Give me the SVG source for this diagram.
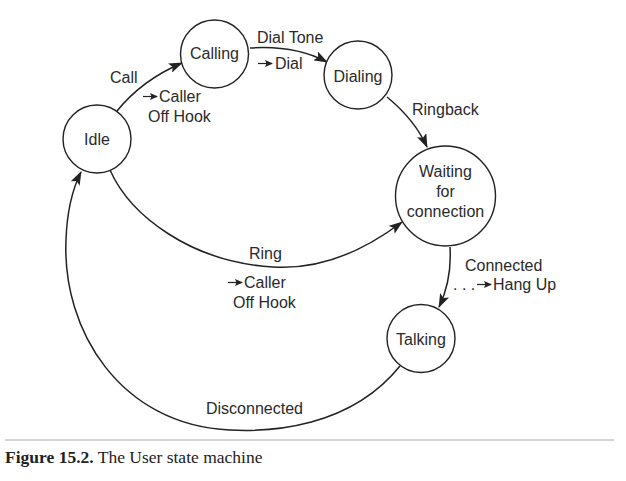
<svg xmlns="http://www.w3.org/2000/svg" width="626" height="481" viewBox="0 0 626 481">
<style>
.node circle{fill:#fff;stroke:#222;stroke-width:1.4}
text{font-family:"Liberation Sans",Arial,sans-serif;font-size:16px;fill:#2a2a2a}
.c{text-anchor:middle}
.edge{fill:none;stroke:#222;stroke-width:1.5}
.la{fill:none;stroke:#222;stroke-width:1.2}
.cap{font-family:"Liberation Serif","Times New Roman",serif;font-size:17.5px;fill:#222}
</style>
<defs>
<marker id="ah" markerUnits="userSpaceOnUse" markerWidth="14" markerHeight="10" refX="13" refY="5" orient="auto">
<path d="M0,0 L14,5 L0,10 L3,5 Z" fill="#222"/>
</marker>
<marker id="sa" markerUnits="userSpaceOnUse" markerWidth="8" markerHeight="7" refX="7" refY="3.5" orient="auto">
<path d="M0,0 L8,3.5 L0,7 L1.5,3.5 Z" fill="#222"/>
</marker>
</defs>
<rect width="626" height="481" fill="#fff"/>
<g id="connectors">
<path class="edge" d="M117,111 Q142,80 182,63" marker-end="url(#ah)"/>
<path class="edge" d="M250,48 Q295,45 327,62" marker-end="url(#ah)"/>
<path class="edge" d="M387,97 Q415,120 427,147" marker-end="url(#ah)"/>
<path class="edge" d="M110,170 C130,215 190,262 273,267 C320,270 365,250 402,222" marker-end="url(#ah)"/>
<path class="edge" d="M450,247 Q452,280 439,307" marker-end="url(#ah)"/>
<path class="edge" d="M400,366 C350,428 270,432 230,430 C120,425 62,330 66,240 C67,210 72,190 81,172" marker-end="url(#ah)"/>
</g>
<g id="labels">
<text x="110" y="83">Call</text>
<path class="la" d="M143,96.5 H157" marker-end="url(#sa)"/>
<text x="159" y="102">Caller</text>
<text x="148" y="122">Off Hook</text>
<text x="257" y="43">Dial Tone</text>
<path class="la" d="M258,63.5 H272" marker-end="url(#sa)"/>
<text x="275" y="69">Dial</text>
<text x="412" y="115">Ringback</text>
<text x="249" y="259">Ring</text>
<path class="la" d="M228,282.5 H242" marker-end="url(#sa)"/>
<text x="244" y="288">Caller</text>
<text x="233" y="308">Off Hook</text>
<text x="465" y="271">Connected</text>
<text x="453" y="290">. . .</text>
<path class="la" d="M477,284.5 H491" marker-end="url(#sa)"/>
<text x="493" y="290">Hang Up</text>
<text x="206" y="414">Disconnected</text>
</g>
<g id="idle" class="node"><circle cx="97" cy="139" r="34"/><text class="c" x="97" y="145">Idle</text></g>
<g id="calling" class="node"><circle cx="214.5" cy="54" r="34"/><text class="c" x="214.5" y="59">Calling</text></g>
<g id="dialing" class="node"><circle cx="358" cy="75" r="34"/><text class="c" x="358" y="82">Dialing</text></g>
<g id="waiting" class="node"><circle cx="445.5" cy="196" r="50"/><text class="c" x="445.5" y="177">Waiting</text><text class="c" x="445.5" y="197">for</text><text class="c" x="445.5" y="217">connection</text></g>
<g id="talking" class="node"><circle cx="421" cy="338.5" r="34"/><text class="c" x="421" y="345">Talking</text></g>
<line x1="5" y1="440" x2="614" y2="440" stroke="#aaa" stroke-width="1"/>
<text class="cap" x="5" y="463"><tspan font-weight="bold">Figure 15.2.</tspan> The User state machine</text>
</svg>
